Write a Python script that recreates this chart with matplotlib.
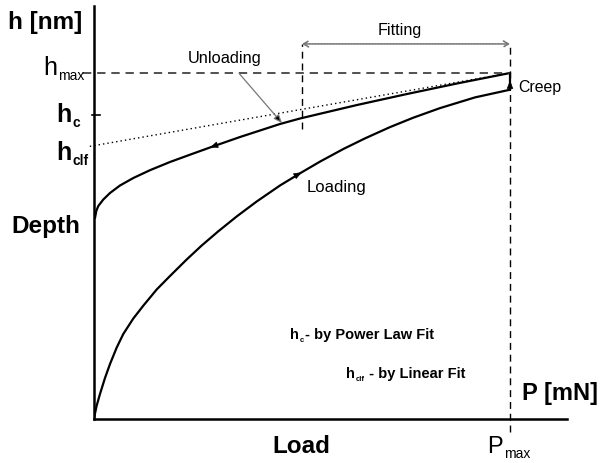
import matplotlib
matplotlib.use("Agg")
import matplotlib.pyplot as plt

plt.rcParams["font.family"] = ["Liberation Sans", "DejaVu Sans"]

# load / depth normalised to P_max and h_max
load_P = [0.0, 0.0024, 0.0065, 0.0144, 0.0264, 0.0385, 0.0546, 0.0704,
          0.0945, 0.1185, 0.1507, 0.1827, 0.2228, 0.2589, 0.2988, 0.3438,
          0.3911, 0.4471, 0.4993, 0.5433, 0.5993, 0.6514, 0.7115, 0.7668,
          0.8317, 0.9159, 1.0]
load_h = [0.0, 0.0159, 0.0390, 0.0723, 0.1185, 0.1590, 0.2066, 0.2457,
          0.2905, 0.3275, 0.3743, 0.4133, 0.4610, 0.5014, 0.5425, 0.5861,
          0.6286, 0.6749, 0.7130, 0.7439, 0.7803, 0.8110, 0.8436, 0.8705,
          0.8985, 0.9295, 0.9517]

unload_P = [0.0024, 0.0055, 0.0103, 0.0224, 0.0385, 0.0625, 0.0945, 0.1346,
            0.1827, 0.2308, 0.2788, 0.3510, 0.4471, 0.4952, 0.6322, 0.7524,
            0.8726, 1.0]
unload_h = [0.5809, 0.6012, 0.6156, 0.6344, 0.6532, 0.6749, 0.6965, 0.7191,
            0.7428, 0.7639, 0.7847, 0.8150, 0.8526, 0.8685, 0.9075, 0.9393,
            0.9697, 1.0]

# linear fit line (dotted) and marks
fit_P = [-0.01, 1.0]
fit_h = [0.788, 1.0]
h_max = 1.0
h_c = 0.879
P_max = 1.0
P_fit_start = 0.5
fit_arrow_h = 1.084

fig = plt.figure(figsize=(6.02, 4.64), dpi=100)
ax = fig.add_axes([94 / 602, 44 / 464, 473 / 602, 413 / 464])
ax.set_xlim(0, 473 / 416)
ax.set_ylim(0, 413 / 346)
for s in ["top", "right"]:
    ax.spines[s].set_visible(False)
for s in ["left", "bottom"]:
    ax.spines[s].set_linewidth(1.8)
ax.set_xticks([])
ax.set_yticks([])

# curves
curve_kw = dict(color="black", lw=1.6, solid_capstyle="round",
                solid_joinstyle="round")
ax.plot(load_P, load_h, **curve_kw)
ax.plot(unload_P, unload_h, **curve_kw)
ax.plot([load_P[-1], unload_P[-1]], [load_h[-1], unload_h[-1]], **curve_kw)
ax.plot(fit_P, fit_h, color="black", lw=1.0, ls=(0, (1, 2.2)), clip_on=False)

# dashed guides
dash = (0, (5, 3.5))
ax.plot([-0.026, P_max], [h_max, h_max], color="#333333", lw=1.2, ls=dash,
        clip_on=False)
ax.plot([P_max, P_max], [-0.038, fit_arrow_h], color="black", lw=1.0, ls=dash,
        clip_on=False)
ax.plot([P_fit_start, P_fit_start], [0.838, fit_arrow_h], color="black",
        lw=1.0, ls=dash)
ax.plot([-0.005, 0.014], [h_c, h_c], color="black", lw=1.2, clip_on=False)

# fitting range arrow
ax.annotate("", xy=(P_fit_start, fit_arrow_h), xytext=(P_max, fit_arrow_h),
            arrowprops=dict(arrowstyle="<->,head_length=0.5,head_width=0.3",
                            color="#777777", lw=1.2, ls=(0, (1, 0.8)),
                            mutation_scale=7, shrinkA=0, shrinkB=0))


def curve_arrow(x, y, dx, dy):
    ax.annotate("", xy=(x, y), xytext=(x - dx, y - dy),
                arrowprops=dict(arrowstyle="-|>,head_length=0.5,head_width=0.2",
                                color="black", lw=0.5, mutation_scale=10,
                                shrinkA=0, shrinkB=0))


curve_arrow(load_P[18], load_h[18], 0.012, 0.0081)
curve_arrow(unload_P[10], unload_h[10], -0.012, -0.0053)
curve_arrow(P_max, 0.978, 0.0, 0.012)

# unloading label
ax.annotate("Unloading", xy=(0.452, 0.855), xytext=(0.315, 1.046),
            fontsize=11.8, ha="center", va="center",
            arrowprops=dict(arrowstyle="-|>,head_length=0.5,head_width=0.2",
                            color="#777777", lw=0.9, mutation_scale=10,
                            shrinkA=6, shrinkB=0, fc="black"))
ax.text(0.584, 0.671, "Loading", fontsize=12, ha="center", va="center")
ax.text(1.019, 0.962, "Creep", fontsize=11.4, ha="left", va="center",
        clip_on=False)
ax.text(0.736, 1.127, "Fitting", fontsize=11.6, ha="center", va="center",
        clip_on=False)


def sub_text(x, y, base, sub, size, sub_size, weight="normal", rest="",
             ha="left"):
    t = ax.text(x, y, base, fontsize=size, weight=weight, ha=ha,
                va="baseline", clip_on=False)
    s = ax.annotate(sub, xy=(1, 0), xycoords=t, xytext=(0.6, 0),
                    textcoords="offset points", fontsize=sub_size,
                    weight=weight, ha="left", va="baseline")
    if rest:
        ax.annotate(rest, xy=(1, 0), xycoords=(s, t), xytext=(0.5, 0),
                    textcoords="offset points", fontsize=size, weight=weight,
                    ha="left", va="bottom")
    return t


sub_text(-0.089, 0.997, "h", "max", 18, 10, ha="right")
sub_text(-0.053, 0.861, "h", "c", 18, 10, weight="bold", ha="right")
sub_text(-0.053, 0.751, "h", "clf", 18, 10, weight="bold", ha="right")
sub_text(0.945, -0.095, "P", "max", 17, 10)
sub_text(0.471, 0.235, "h", "c", 10.5, 5.5, weight="bold",
         rest="- by Power Law Fit")
sub_text(0.606, 0.120, "h", "clf", 10.5, 5.5, weight="bold",
         rest=" - by Linear Fit")

# axis titles
ax.text(-0.118, 1.150, "h [nm]", fontsize=17.5, weight="bold", ha="center",
        va="center", clip_on=False)
ax.text(-0.115, 0.558, "Depth", fontsize=17.5, weight="bold", ha="center",
        va="center", clip_on=False)
ax.text(0.498, -0.078, "Load", fontsize=17.5, weight="bold", ha="center",
        va="center", clip_on=False)
ax.text(1.120, 0.078, "P [mN]", fontsize=17, weight="bold", ha="center",
        va="center", clip_on=False)

fig.savefig("out.png", dpi=100)
plt.close(fig)
